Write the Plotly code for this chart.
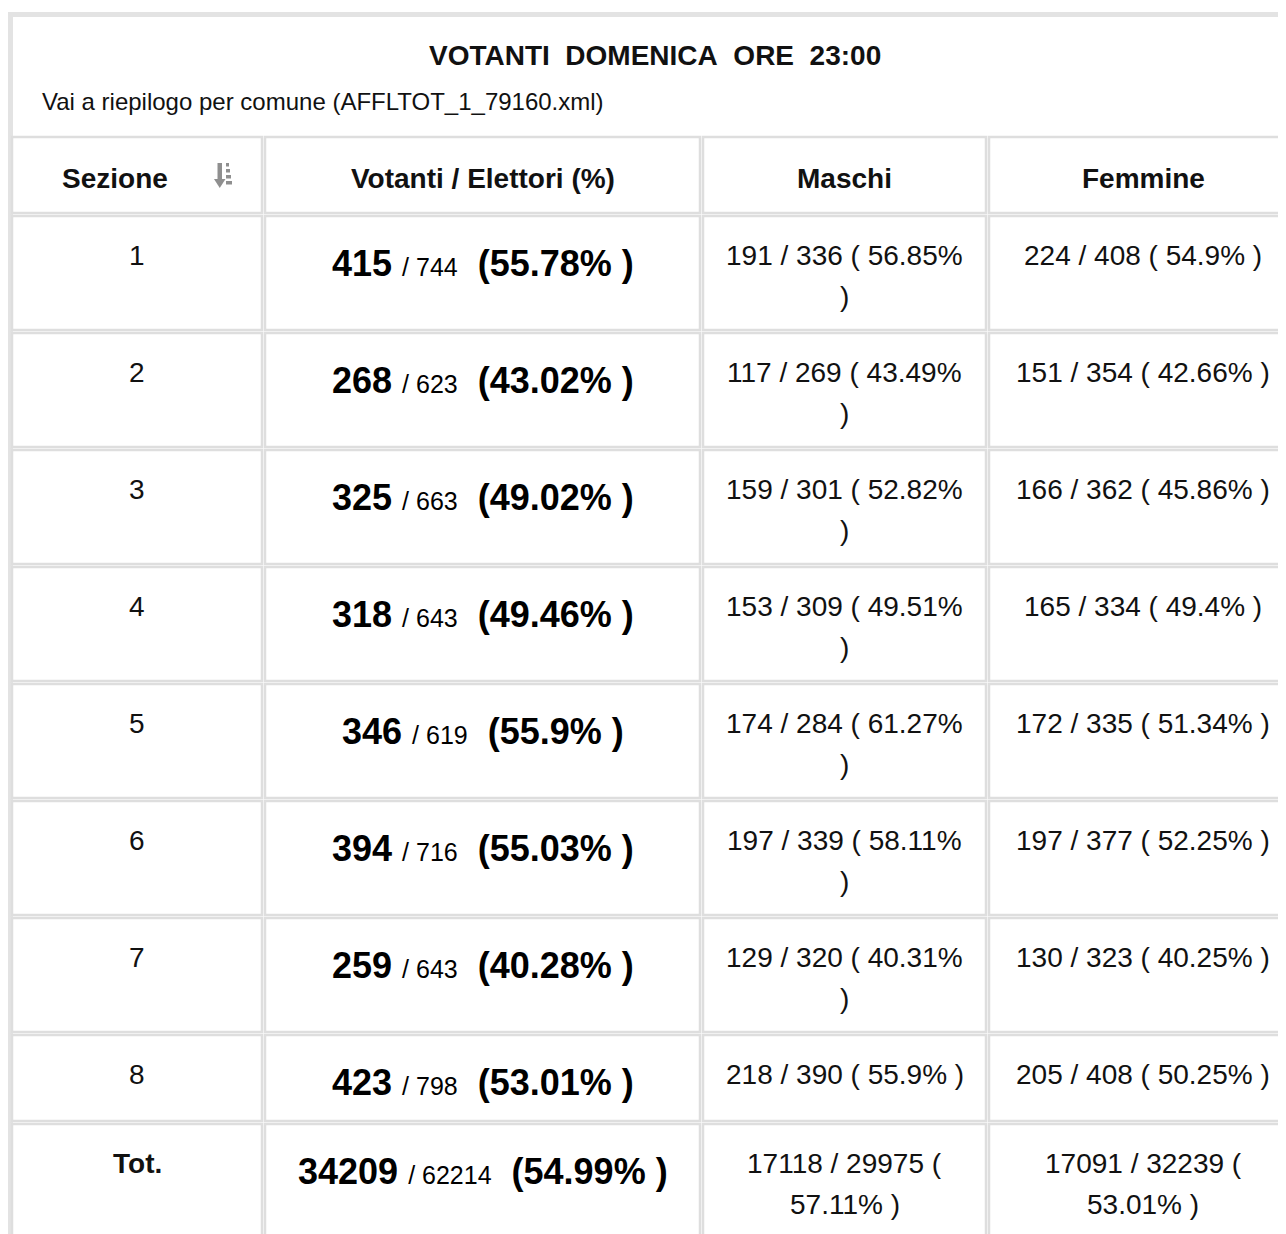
import plotly.graph_objects as go

# ---------------- data ----------------
title = "VOTANTI&nbsp; DOMENICA&nbsp; ORE&nbsp; 23:00"
subtitle = "Vai a riepilogo per comune (AFFLTOT_1_79160.xml)"
header_labels = ["Sezione", "Votanti / Elettori (%)", "Maschi", "Femmine"]

sezioni = ["1", "2", "3", "4", "5", "6", "7", "8", "Tot."]
votanti = [415, 268, 325, 318, 346, 394, 259, 423, 34209]
elettori = [744, 623, 663, 643, 619, 716, 643, 798, 62214]
perc_tot = ["55.78", "43.02", "49.02", "49.46", "55.9", "55.03", "40.28", "53.01", "54.99"]

maschi_v = [191, 117, 159, 153, 174, 197, 129, 218, 17118]
maschi_e = [336, 269, 301, 309, 284, 339, 320, 390, 29975]
maschi_p = ["56.85", "43.49", "52.82", "49.51", "61.27", "58.11", "40.31", "55.9", "57.11"]

femmine_v = [224, 151, 166, 165, 172, 197, 130, 205, 17091]
femmine_e = [408, 354, 362, 334, 335, 377, 323, 408, 32239]
femmine_p = ["54.9", "42.66", "45.86", "49.4", "51.34", "52.25", "40.25", "50.25", "53.01"]

# ---------------- layout / style ----------------
PAGE_W, PAGE_H = 1286, 1234
OFF = 8  # default body margin of the html page
W, H = PAGE_W - OFF, PAGE_H - OFF
FONT = "Liberation Sans, Arial, Helvetica, sans-serif"
BORDER = "#dedede"
TXT = "#111111"
BODY = 28
BIG = 36
SMALL = 25

col_edges = [(12, 262), (265, 700), (703, 986), (989, 1300)]
wrap_limit = [None, None, 245, 270]

ARIAL = {d: 0.556 for d in "0123456789"}
ARIAL.update({" ": 0.278, "/": 0.278, "(": 0.333, ")": 0.333, "%": 0.889, ".": 0.278})


def text_width(s, size):
    return sum(ARIAL.get(ch, 0.556) for ch in s) * size


def wrap(s, limit, size):
    words = s.split(" ")
    lines, cur = [], ""
    for w in words:
        cand = w if not cur else cur + " " + w
        if text_width(cand, size) <= limit or not cur:
            cur = cand
        else:
            lines.append(cur)
            cur = w
    lines.append(cur)
    return lines


fig = go.Figure()
fig.add_trace(go.Scatter(x=[OFF, PAGE_W], y=[OFF, PAGE_H], mode="markers",
                         marker=dict(opacity=0), hoverinfo="skip", showlegend=False))

shapes = []
annotations = []

# outer frame
shapes.append(dict(type="rect", xref="x", yref="y", x0=10.5, y0=14.5, x1=1310, y1=1310,
                   line=dict(color="#e3e3e3", width=5), fillcolor="rgba(0,0,0,0)", layer="below"))

annotations.append(dict(x=655, y=55, xref="x", yref="y", text="<b>" + title + "</b>",
                        showarrow=False, font=dict(family=FONT, size=BODY, color=TXT),
                        xanchor="center", yanchor="middle"))
annotations.append(dict(x=40, y=101, xref="x", yref="y", text=subtitle, showarrow=False,
                        font=dict(family=FONT, size=24, color=TXT), xanchor="left", yanchor="middle"))


def cell(x0, y0, x1, y1):
    shapes.append(dict(type="rect", xref="x", yref="y", x0=x0, y0=y0, x1=x1, y1=y1,
                       line=dict(color=BORDER, width=2.5), fillcolor="rgba(0,0,0,0)", layer="below"))


# header row
h_top, h_bot = 137, 213
for c, (x0, x1) in enumerate(col_edges):
    cell(x0, h_top, x1, h_bot)
    cx = 115 if c == 0 else (x0 + min(x1, 1297)) / 2
    annotations.append(dict(x=cx, y=178, xref="x", yref="y", text="<b>" + header_labels[c] + "</b>",
                            showarrow=False, font=dict(family=FONT, size=BODY, color=TXT),
                            xanchor="center", yanchor="middle"))

# sort icon (descending)
ICON = "#8f8f8f"
shapes.append(dict(type="rect", xref="x", yref="y", x0=217.5, y0=163, x1=222, y1=181,
                   line=dict(width=0), fillcolor=ICON))
shapes.append(dict(type="path", xref="x", yref="y", path="M 214 179 L 225.5 179 L 219.75 188 Z",
                   line=dict(width=0), fillcolor=ICON))
for k, wdt in enumerate([3, 4, 5, 6]):
    yy = 163 + k * 6
    shapes.append(dict(type="rect", xref="x", yref="y", x0=226, y0=yy, x1=226 + wdt, y1=yy + 3.5,
                       line=dict(width=0), fillcolor=ICON))

# data rows
y = 216
for r in range(len(sezioni)):
    m_txt = f"{maschi_v[r]} / {maschi_e[r]} ( {maschi_p[r]}% )"
    f_txt = f"{femmine_v[r]} / {femmine_e[r]} ( {femmine_p[r]}% )"
    m_lines = wrap(m_txt, wrap_limit[2], BODY)
    f_lines = wrap(f_txt, wrap_limit[3], BODY)
    nlines = max(len(m_lines), len(f_lines))
    pitch = 117 if nlines > 1 else 89
    top, bot = y, y + pitch - 3
    for (x0, x1) in col_edges:
        cell(x0, top, x1, bot)

    first = top + 39
    # Sezione
    sez = f"<b>{sezioni[r]}</b>" if sezioni[r] == "Tot." else sezioni[r]
    annotations.append(dict(x=sum(col_edges[0]) / 2, y=first, xref="x", yref="y", text=sez,
                            showarrow=False, font=dict(family=FONT, size=BODY, color=TXT),
                            xanchor="center", yanchor="middle"))
    # Votanti / Elettori
    big = (f"<b>{votanti[r]}</b> <span style='font-size:{SMALL}px'>/ {elettori[r]}</span>&nbsp; "
           f"<b>({perc_tot[r]}% )</b>")
    annotations.append(dict(x=sum(col_edges[1]) / 2, y=top + 47, xref="x", yref="y", text=big,
                            showarrow=False, font=dict(family=FONT, size=BIG, color="#000000"),
                            xanchor="center", yanchor="middle"))
    # Maschi / Femmine
    for c, lines in ((2, m_lines), (3, f_lines)):
        cx = (col_edges[c][0] + min(col_edges[c][1], 1297)) / 2
        for k, ln in enumerate(lines):
            annotations.append(dict(x=cx, y=first + 41 * k, xref="x", yref="y", text=ln,
                                    showarrow=False, font=dict(family=FONT, size=BODY, color=TXT),
                                    xanchor="center", yanchor="middle"))
    y += pitch

fig.update_layout(
    width=W, height=H,
    margin=dict(l=0, r=0, t=0, b=0),
    paper_bgcolor="white", plot_bgcolor="white",
    xaxis=dict(range=[OFF, PAGE_W], visible=False, fixedrange=True),
    yaxis=dict(range=[PAGE_H, OFF], visible=False, fixedrange=True),
    shapes=shapes, annotations=annotations,
    showlegend=False,
)

fig.write_html("out.html", config={"displayModeBar": False})
